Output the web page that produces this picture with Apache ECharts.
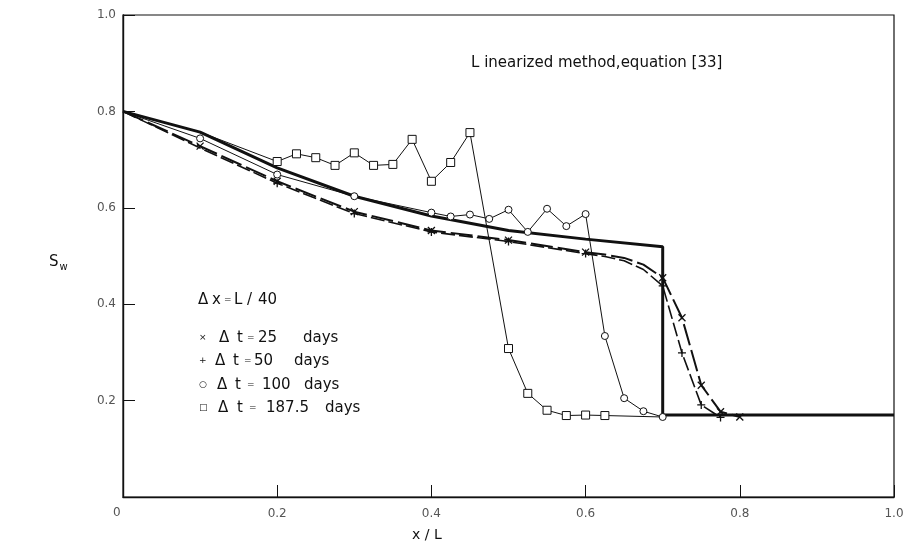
<!DOCTYPE html>
<html>
<head>
<meta charset="utf-8">
<script src="https://cdn.jsdelivr.net/npm/echarts@6/dist/echarts.min.js"></script>
<style>html,body{margin:0;padding:0;background:#fff;}#c{width:907px;height:543px;}</style>
</head>
<body>
<div id="c"></div>
<script>
// ---- data (x/L, Sw) ----
const xTicks = [0, 0.2, 0.4, 0.6, 0.8, 1.0];
const yTicks = [0, 0.2, 0.4, 0.6, 0.8, 1.0];

const exactX = [0, 0.1, 0.2, 0.3, 0.4, 0.5, 0.6, 0.7, 0.7, 1.0];
const exactS = [0.8, 0.757, 0.683, 0.624, 0.583, 0.553, 0.535, 0.519, 0.17, 0.17];

const x25X = [0, 0.1, 0.2, 0.3, 0.4, 0.5, 0.6, 0.625, 0.65, 0.675, 0.7, 0.725, 0.75, 0.775, 0.8];
const x25S = [0.8, 0.728, 0.655, 0.592, 0.553, 0.533, 0.508, 0.503, 0.496, 0.482, 0.455, 0.372, 0.232, 0.177, 0.166];
const x25Plain = [0, 0.625, 0.65, 0.675];

const p50X = [0, 0.1, 0.2, 0.3, 0.4, 0.5, 0.6, 0.625, 0.65, 0.675, 0.7, 0.725, 0.75, 0.775];
const p50S = [0.8, 0.724, 0.651, 0.588, 0.550, 0.530, 0.505, 0.499, 0.490, 0.472, 0.438, 0.299, 0.191, 0.165];
const p50Plain = [0, 0.1, 0.625, 0.65, 0.675];

const c100X = [0, 0.1, 0.2, 0.3, 0.4, 0.425, 0.45, 0.475, 0.5, 0.525, 0.55, 0.575, 0.6, 0.625, 0.65, 0.675, 0.7];
const c100S = [0.8, 0.744, 0.669, 0.624, 0.590, 0.582, 0.586, 0.577, 0.596, 0.550, 0.598, 0.562, 0.587, 0.334, 0.205, 0.178, 0.166];
const c100Plain = [0];

const s187X = [0, 0.1, 0.2, 0.225, 0.25, 0.275, 0.3, 0.325, 0.35, 0.375, 0.4, 0.425, 0.45, 0.5, 0.525, 0.55, 0.575, 0.6, 0.625, 0.7];
const s187S = [0.8, 0.757, 0.696, 0.712, 0.704, 0.688, 0.714, 0.688, 0.690, 0.742, 0.655, 0.694, 0.756, 0.308, 0.215, 0.180, 0.169, 0.170, 0.169, 0.166];
const s187Plain = [0, 0.1, 0.7];

const titleText = 'L inearized method,equation [33]';
const xName = 'x / L';
// legend text pieces
const legendHead = ['\u0394', 'x', '=', 'L', '/', '40'];
const legendMarks = ['\u00d7', '+', '\u25cb', '\u25a1'];
const legendDt = ['25', '50', '100', '187.5'];

function pts(X, S, plain) {
  return X.map((x, i) => {
    const d = { value: [x, S[i]] };
    if (plain.includes(x)) d.symbol = 'none';
    return d;
  });
}

const ink = '#111';
const fontFam = '"DejaVu Sans", "Liberation Sans", sans-serif';
const chart = echarts.init(document.getElementById('c'), null, { renderer: 'canvas' });

function txt(t, x, y, size, color) {
  return { type: 'text', x: x, y: y, silent: true,
    style: { text: t, fill: color || ink, font: size + 'px ' + fontFam, verticalAlign: 'middle', textVerticalAlign: 'middle' } };
}

const graphics = [];
graphics.push(txt(titleText, 471, 63, 15));
graphics.push(txt(xName, 412, 535, 14));
graphics.push(txt('0', 113, 513, 12, '#555'));
graphics.push({ type: 'text', x: 49, y: 253, silent: true,
  style: { text: '{a|S}{b|w}', rich: { a: { fontSize: 15, fill: ink, fontFamily: fontFam }, b: { fontSize: 10, fill: ink, fontFamily: fontFam, padding: [9, 0, 0, 1] } } } });
// legend block
const headX = [198, 212, 224, 234, 247, 258];
const headSize = [15, 15, 9, 15, 15, 15];
legendHead.forEach((t, i) => graphics.push(txt(t, headX[i], 300, headSize[i])));
const rowY = [338, 361, 385, 408];
const deltaX = [219, 215, 217, 218];
const tX = [237, 233, 235, 237];
const eqX = [247, 244, 247, 249];
const numX = [258, 254, 262, 266];
const daysX = [303, 294, 304, 325];
legendMarks.forEach((m, i) => {
  graphics.push(txt(m, 199, rowY[i], 9));
  graphics.push(txt('\u0394', deltaX[i], rowY[i], 15));
  graphics.push(txt('t', tX[i], rowY[i], 15));
  graphics.push(txt('=', eqX[i], rowY[i], 9));
  graphics.push(txt(legendDt[i], numX[i], rowY[i], 15));
  graphics.push(txt('days', daysX[i], rowY[i], 15));
});

chart.setOption({
  backgroundColor: '#fff',
  animation: false,
  grid: { left: 123, right: 13, top: 15, bottom: 46, show: true, borderColor: ink, borderWidth: 1.2, backgroundColor: 'transparent' },
  xAxis: {
    type: 'value', min: 0, max: 1, interval: 0.2,
    axisLine: { lineStyle: { color: ink, width: 1.4 } },
    axisTick: { inside: true, length: 12, lineStyle: { color: ink, width: 1 } },
    splitLine: { show: false },
    axisLabel: { color: '#555', fontSize: 12, fontFamily: fontFam, margin: 11,
      formatter: v => (v === 0 ? '' : xTicks.includes(Math.round(v * 10) / 10) ? v.toFixed(1) : '') }
  },
  yAxis: {
    type: 'value', min: 0, max: 1, interval: 0.2,
    axisLine: { show: true, lineStyle: { color: ink, width: 1.4 } },
    axisTick: { inside: true, length: 12, lineStyle: { color: ink, width: 1 } },
    splitLine: { show: false },
    axisLabel: { color: '#555', fontSize: 12, fontFamily: fontFam, margin: 7,
      formatter: v => (v === 0 ? '' : yTicks.includes(Math.round(v * 10) / 10) ? v.toFixed(1) : '') }
  },
  graphic: graphics,
  series: [
    { name: 'exact', type: 'line', data: pts(exactX, exactS, exactX), showSymbol: false, symbol: 'none',
      lineStyle: { color: ink, width: 3 }, z: 2 },
    { name: '25 days', type: 'line', data: pts(x25X, x25S, x25Plain),
      symbol: 'path://M0,0L10,10M10,0L0,10', symbolSize: 7,
      itemStyle: { color: 'rgba(0,0,0,0)', borderColor: ink, borderWidth: 1.3 },
      lineStyle: { color: ink, width: 2, type: [22, 5] }, z: 3 },
    { name: '50 days', type: 'line', data: pts(p50X, p50S, p50Plain),
      symbol: 'path://M5,0L5,10M0,5L10,5', symbolSize: 8,
      itemStyle: { color: 'rgba(0,0,0,0)', borderColor: ink, borderWidth: 1.3 },
      lineStyle: { color: ink, width: 1.6, type: [14, 4] }, z: 3 },
    { name: '100 days', type: 'line', data: pts(c100X, c100S, c100Plain),
      symbol: 'circle', symbolSize: 7,
      itemStyle: { color: '#fff', borderColor: ink, borderWidth: 1 },
      lineStyle: { color: ink, width: 1 }, z: 4 },
    { name: '187.5 days', type: 'line', data: pts(s187X, s187S, s187Plain),
      symbol: 'rect', symbolSize: 8,
      itemStyle: { color: '#fff', borderColor: ink, borderWidth: 1 },
      lineStyle: { color: ink, width: 1 }, z: 4 }
  ]
});
</script>
</body>
</html>
